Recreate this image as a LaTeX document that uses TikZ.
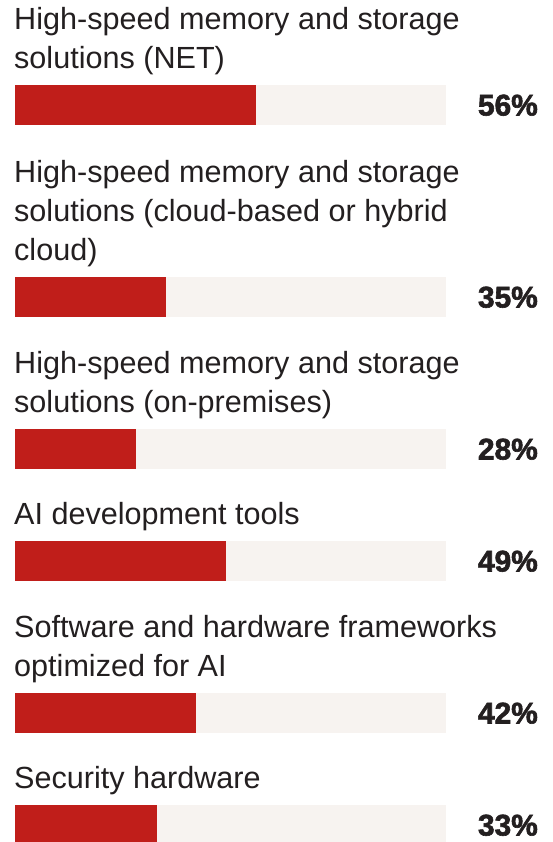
\documentclass[tikz,border=0pt]{standalone}
\usepackage{fontspec}
\setmainfont{Liberation Sans}
\newfontfamily\pctfont{Liberation Sans}[BoldFeatures={FakeBold=2}]
\definecolor{barred}{RGB}{192,30,26}
\definecolor{bartrack}{RGB}{247,243,240}
\definecolor{txt}{RGB}{35,31,32}
\begin{document}
\begin{tikzpicture}[x=1bp,y=-1bp,
  lbl/.style={anchor=base west,inner sep=0pt,text=txt,font=\fontsize{30.7}{39}\selectfont},
  pct/.style={anchor=base east,inner sep=0pt,text=txt,font=\fontsize{30}{32}\pctfont\bfseries},
  track/.style={fill=bartrack,draw=none},
  val/.style={fill=barred,draw=none}]
\useasboundingbox (0,0) rectangle (553,842);
\fill[white] (0,0) rectangle (553,842);
% group 1
\node[lbl] (l1a) at (14,29) {High-speed memory and storage};
\node[lbl] (l1b) at (14,68) {solutions (NET)};
\fill[track] (15,85) rectangle (446,125);
\fill[val] (15,85) rectangle ({15+0.56*431},125);
\node[pct] (p1) at (538,115.5) {56\%};
% group 2
\node[lbl] (l2a) at (14,182) {High-speed memory and storage};
\node[lbl] (l2b) at (14,221) {solutions (cloud-based or hybrid};
\node[lbl] (l2c) at (14,260) {cloud)};
\fill[track] (15,277) rectangle (446,317);
\fill[val] (15,277) rectangle ({15+0.35*431},317);
\node[pct] (p2) at (538,307.5) {35\%};
% group 3
\node[lbl] (l3a) at (14,373) {High-speed memory and storage};
\node[lbl] (l3b) at (14,412) {solutions (on-premises)};
\fill[track] (15,429) rectangle (446,469);
\fill[val] (15,429) rectangle ({15+0.28*431},469);
\node[pct] (p3) at (538,459.5) {28\%};
% group 4
\node[lbl] (l4a) at (14,524) {AI development tools};
\fill[track] (15,541) rectangle (446,581);
\fill[val] (15,541) rectangle ({15+0.49*431},581);
\node[pct] (p4) at (538,571.5) {49\%};
% group 5
\node[lbl] (l5a) at (14,637) {Software and hardware frameworks};
\node[lbl] (l5b) at (14,676) {optimized for AI};
\fill[track] (15,693) rectangle (446,733);
\fill[val] (15,693) rectangle ({15+0.42*431},733);
\node[pct] (p5) at (538,723.5) {42\%};
% group 6
\node[lbl] (l6a) at (14,788) {Security hardware};
\fill[track] (15,805) rectangle (446,842);
\fill[val] (15,805) rectangle ({15+0.33*431},842);
\node[pct] (p6) at (538,835.5) {33\%};
\end{tikzpicture}
\end{document}
